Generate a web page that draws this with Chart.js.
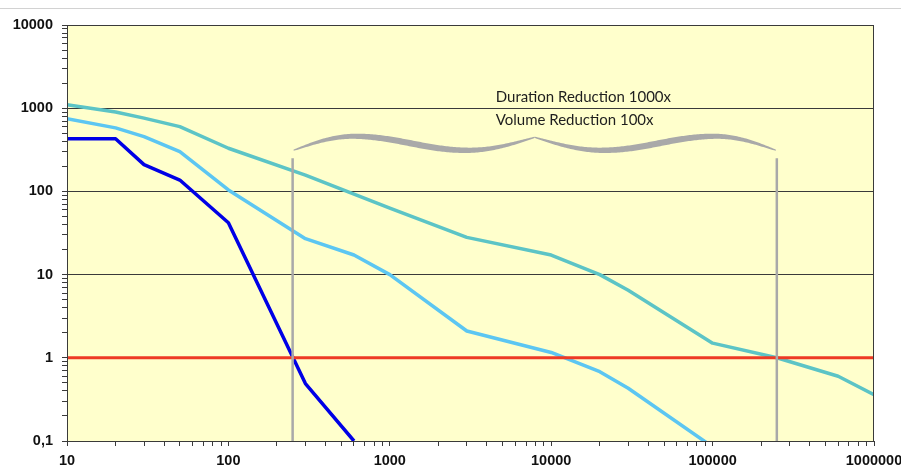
<!DOCTYPE html>
<html>
<head>
<meta charset="utf-8">
<script src="https://cdn.jsdelivr.net/npm/chart.js@4.4.0/dist/chart.umd.min.js"></script>
<style>
  html, body { margin:0; padding:0; background:#fff; }
  #wrap { position:relative; width:901px; height:470px; overflow:hidden; }
  #topRule { position:absolute; left:0; top:8px; width:901px; height:0; border-top:1px solid #d2d2d2; }
  #chart { position:absolute; left:0; top:0; }
</style>
</head>
<body>
<div id="wrap">
  <div id="topRule"></div>
  <canvas id="chart" width="901" height="470"></canvas>
</div>
<script>
(function(){
  'use strict';

  // series (x, y pairs on log-log axes)
  var darkX  = [10, 20, 30, 50, 100, 300, 600];
  var darkY  = [430, 430, 210, 137, 42, 0.49, 0.1];
  var lightX = [10, 20, 30, 50, 100, 300, 600, 1000, 3000, 10000, 20000, 30000, 100000];
  var lightY = [750, 580, 455, 300, 104, 27, 17.2, 10, 2.1, 1.16, 0.68, 0.43, 0.085];
  var tealX  = [10, 20, 30, 50, 100, 300, 1000, 3000, 10000, 20000, 30000, 100000, 250000, 600000, 1000000];
  var tealY  = [1100, 900, 760, 600, 330, 157, 63, 28, 17.2, 10, 6.5, 1.5, 1.0, 0.6, 0.36];
  var redX   = [10, 1000000];
  var redY   = [1, 1];
  var markerX = [250, 250000];   // vertical grey lines
  var markerBottom = 0.1;
  var markerTop = 250;

  // axes
  var xDecades = [10, 100, 1000, 10000, 100000, 1000000];
  var xTickLabels = ['10', '100', '1000', '10000', '100000', '1000000'];
  var yDecades = [0.1, 1, 10, 100, 1000, 10000];
  var yTickLabels = ['0,1', '1', '10', '100', '1000', '10000'];
  var minorSteps = [2, 3, 4, 5, 6, 7, 8, 9];

  var noteLines = ['Duration Reduction 1000x', 'Volume Reduction 100x'];

  function pts(xs, ys){ return xs.map(function(x, i){ return {x: x, y: ys[i]}; }); }

  function logTicks(decades){
    var t = [];
    decades.forEach(function(d, i){
      t.push({value: d, major: true});
      if(i < decades.length - 1){
        minorSteps.forEach(function(k){ t.push({value: +(d * k).toPrecision(6), major: false}); });
      }
    });
    return t;
  }

  function lineSet(data, color, width, order){
    return {data: data, borderColor: color, borderWidth: width, pointRadius: 0, showLine: true,
            fill: false, tension: 0, order: order, borderCapStyle: 'butt', borderJoinStyle: 'round'};
  }

  var datasets = [
    lineSet(pts(darkX, darkY), '#0000E6', 3.5, 4),
    lineSet(pts(lightX, lightY), '#5CC6F2', 3.5, 3),
    lineSet(pts(tealX, tealY), '#5CC4C6', 3.5, 2),
    lineSet(pts(redX, redY), '#EE3A24', 3, 1)
  ];
  markerX.forEach(function(mx){
    datasets.push(lineSet(pts([mx, mx], [markerBottom, markerTop]), '#A9A9A9', 2.5, 0));
  });

  var tickFont = {family: '"Liberation Sans", Arial, sans-serif', size: 14.5, weight: 'bold'};

  // curly brace between the two grey markers: s = 0 at the outer end, 1 at the centre tip
  function braceCenter(s, yBase){
    if(s < 0.25) return yBase - 14 * Math.sin(Math.PI / 2 * s / 0.25);
    if(s < 0.72){ var u = (s - 0.25) / 0.47; return yBase - 14 + 14 * (1 - Math.cos(Math.PI * u)) / 2; }
    var v = (s - 0.72) / 0.28;
    return yBase - 13 * (1 - Math.cos(Math.PI / 2 * v));
  }
  function braceHalfWidth(s){
    return 0.5 + 2.6 * Math.pow(Math.sin(Math.PI * s), 0.7);
  }
  function drawBrace(c, x0, x1, yBase){
    var half = (x1 - x0) / 2, n = 160;
    [1, -1].forEach(function(dir){
      var start = dir > 0 ? x0 : x1, top = [], bot = [];
      for(var i = 0; i <= n; i++){
        var s = i / n, x = start + dir * s * half, y = braceCenter(s, yBase);
        var ds = 0.002, sa = Math.max(0, s - ds), sb = Math.min(1, s + ds);
        var dx = dir * (sb - sa) * half, dy = braceCenter(sb, yBase) - braceCenter(sa, yBase);
        var len = Math.sqrt(dx * dx + dy * dy) || 1, nx = -dy / len, ny = dx / len;
        if(ny > 0){ nx = -nx; ny = -ny; }
        var w = braceHalfWidth(s);
        top.push([x + nx * w, y + ny * w]); bot.push([x - nx * w, y - ny * w]);
      }
      c.beginPath();
      c.moveTo(top[0][0], top[0][1]);
      top.forEach(function(p){ c.lineTo(p[0], p[1]); });
      bot.reverse().forEach(function(p){ c.lineTo(p[0], p[1]); });
      c.closePath();
      c.fill();
    });
  }

  var decor = {
    id: 'decor',
    beforeDraw: function(chart){
      var a = chart.chartArea, c = chart.ctx;
      c.save();
      c.fillStyle = '#FFFFCC';
      c.fillRect(a.left, a.top, a.right - a.left, a.bottom - a.top);
      c.restore();
    },
    afterDraw: function(chart){
      var a = chart.chartArea, c = chart.ctx;
      var xs = chart.scales.x, ys = chart.scales.y;
      c.save();
      c.strokeStyle = '#3a3a3a';
      c.lineWidth = 1;
      c.strokeRect(Math.round(a.left) + 0.5, Math.round(a.top) + 0.5,
                   Math.round(a.right - a.left) - 1, Math.round(a.bottom - a.top));
      var bx0 = xs.getPixelForValue(markerX[0]) + 1;
      var bx1 = xs.getPixelForValue(markerX[1]) - 1;
      var yb = ys.getPixelForValue(markerTop) - 8;
      c.fillStyle = '#A9A9A9';
      drawBrace(c, bx0, bx1, yb);
      var mid = (bx0 + bx1) / 2, gy = ys.getPixelForValue(1000);
      c.fillStyle = '#1e1e1e';
      c.font = '15px Lato, "Open Sans", sans-serif';
      c.textAlign = 'left';
      c.textBaseline = 'alphabetic';
      c.fillText(noteLines[0], mid - 39, gy - 6.5);
      c.fillText(noteLines[1], mid - 39, gy + 17);
      c.restore();
    }
  };

  new Chart(document.getElementById('chart').getContext('2d'), {
    type: 'scatter',
    data: {datasets: datasets},
    options: {
      responsive: false,
      animation: false,
      devicePixelRatio: 1,
      layout: {padding: {top: 25, right: 27, left: 0, bottom: 0}},
      plugins: {legend: {display: false}, tooltip: {enabled: false}},
      scales: {
        x: {
          type: 'logarithmic', min: 10, max: 1000000,
          afterBuildTicks: function(axis){ axis.ticks = logTicks(xDecades); },
          afterFit: function(axis){ axis.height = 29; axis.paddingLeft = 0; axis.paddingRight = 0; },
          grid: {drawOnChartArea: false, drawTicks: true, tickLength: 5, tickColor: '#3a3a3a', color: '#3a3a3a'},
          border: {color: '#3a3a3a', width: 1},
          ticks: {autoSkip: false, maxRotation: 0, padding: 6, color: '#111', font: tickFont,
            callback: function(v){ var i = xDecades.indexOf(v); return i < 0 ? '' : xTickLabels[i]; }}
        },
        y: {
          type: 'logarithmic', min: 0.1, max: 10000,
          afterBuildTicks: function(axis){ axis.ticks = logTicks(yDecades); },
          afterFit: function(axis){ axis.width = 67; axis.paddingTop = 0; axis.paddingBottom = 0; },
          grid: {drawTicks: true, tickLength: 5, tickColor: '#3a3a3a',
            color: function(ctx){ return ctx.tick && ctx.tick.major ? '#3a3a3a' : 'rgba(0,0,0,0)'; }},
          border: {color: '#3a3a3a', width: 1},
          ticks: {autoSkip: false, padding: 9, color: '#111', font: tickFont,
            callback: function(v){ var i = yDecades.indexOf(v); return i < 0 ? '' : yTickLabels[i]; }}
        }
      }
    },
    plugins: [decor]
  });
})();
</script>
</body>
</html>
